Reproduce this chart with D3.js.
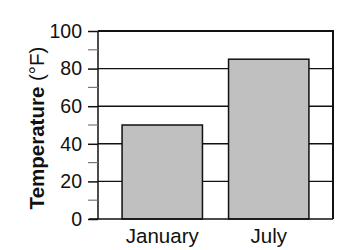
<!DOCTYPE html>
<html><head><meta charset="utf-8">
<script src="https://cdn.jsdelivr.net/npm/d3@7"></script>
<style>body{margin:0;background:#fff}svg{display:block}</style>
</head><body>
<script>
const categories = ["January", "July"];
const values = [50, 85];
const majorTicks = [0, 20, 40, 60, 80, 100];
const minorTicks = [10, 30, 50, 70, 90];
const yTitleBold = "Temperature";
const yTitleRest = " (°F)";

const W = 354, H = 250;
const L = 98, R = 333, T = 31, B = 219;
const svg = d3.select("body").append("svg").attr("width", W).attr("height", H);
const y = d3.scaleLinear().domain([0, 100]).range([B, T]);
const x = d3.scaleBand().domain(categories).range([L, R]).paddingInner(0.245).paddingOuter(0.226);
const font = "Liberation Sans, Arial, sans-serif";

// gridlines
svg.append("g").selectAll("line").data(majorTicks.filter(d => d > 0 && d < 100)).join("line")
  .attr("x1", L).attr("x2", R).attr("y1", d => y(d)).attr("y2", d => y(d))
  .attr("stroke", "#111").attr("stroke-width", 1.4);

// bars
svg.append("g").selectAll("rect").data(values).join("rect")
  .attr("x", (d, i) => x(categories[i])).attr("width", x.bandwidth())
  .attr("y", d => y(d)).attr("height", d => B - y(d))
  .attr("fill", "#c0c0c0").attr("stroke", "#111").attr("stroke-width", 1.5);

// frame top & right
svg.append("path").attr("d", `M${L},${T}H${R}V${B}`).attr("fill", "none")
  .attr("stroke", "#111").attr("stroke-width", 2);
// bottom line
svg.append("line").attr("x1", 89).attr("x2", R).attr("y1", B).attr("y2", B)
  .attr("stroke", "#111").attr("stroke-width", 1.5);

// y axis
const yAxis = d3.axisLeft(y).tickValues(majorTicks).tickSize(10).tickPadding(6);
const gy = svg.append("g").attr("transform", `translate(${L},0)`).call(yAxis);
gy.select(".domain").attr("stroke", "#111").attr("stroke-width", 1.5).attr("d", `M0,${T}V${B}`);
gy.selectAll(".tick line").attr("stroke", "#111").attr("stroke-width", 1.5);
gy.selectAll(".tick text").attr("font-family", font).attr("font-size", 19.5).attr("fill", "#111");
// minor ticks
svg.append("g").selectAll("line").data(minorTicks).join("line")
  .attr("x1", L - 10).attr("x2", L).attr("y1", d => y(d)).attr("y2", d => y(d))
  .attr("stroke", "#777").attr("stroke-width", 1.2);

// x axis labels
const xAxis = d3.axisBottom(x).tickSize(0).tickPadding(9);
const gx = svg.append("g").attr("transform", `translate(0,${B})`).call(xAxis);
gx.select(".domain").remove();
gx.selectAll(".tick text").attr("font-family", font).attr("font-size", 20.5).attr("fill", "#111");

// y title
const title = svg.append("text").attr("transform", `translate(44,${(T + B) / 2 + 3}) rotate(-90)`)
  .attr("text-anchor", "middle").attr("font-family", font).attr("font-size", 20.5).attr("fill", "#111");
title.append("tspan").attr("font-weight", "bold").text(yTitleBold);
title.append("tspan").text(yTitleRest);
</script>
</body></html>
